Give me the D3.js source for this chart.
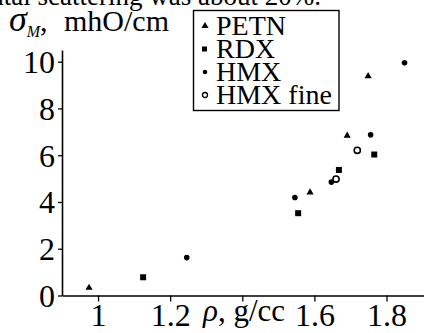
<!DOCTYPE html>
<html><head><meta charset="utf-8">
<script src="https://cdn.jsdelivr.net/npm/d3@7"></script>
<style>
html,body{margin:0;padding:0;background:#fff;}
svg{display:block;font-family:"Liberation Serif","Times New Roman",serif;}
</style></head>
<body>
<svg id="c" width="424" height="333"></svg>
<script>
// Data
const petnRho = [0.975, 1.588, 1.691, 1.749];
const petnSigma = [0.33, 4.41, 6.84, 9.38];
const rdxRho = [1.125, 1.555, 1.668, 1.766];
const rdxSigma = [0.78, 3.52, 5.37, 6.03];
const hmxRho = [1.246, 1.546, 1.647, 1.756, 1.850];
const hmxSigma = [1.62, 4.19, 4.85, 6.87, 9.95];
const hmxFineRho = [1.660, 1.719];
const hmxFineSigma = [4.98, 6.21];
const xTicks = [1.0, 1.2, 1.4, 1.6, 1.8];
const xTickLabels = ["1", "1.2", "", "1.6", "1.8"];
const yTicks = [0, 2, 4, 6, 8, 10];
const legendNames = ["PETN", "RDX", "HMX", "HMX fine"];

const FONT = "Liberation Serif";
const svg = d3.select("#c");
const x = d3.scaleLinear().domain([0.9, 1.904]).range([62, 424]);
const y = d3.scaleLinear().domain([0, 10.5]).range([295.5, 50]);

// clipped caption line at top
svg.append("text").attr("x", 321).attr("y", 5).attr("text-anchor", "end")
  .attr("font-size", 27).text("ontal scattering was about 20%.");

// axes
const xAxis = d3.axisBottom(x).tickValues(xTicks)
  .tickFormat((d, i) => xTickLabels[i]).tickSizeInner(6).tickSizeOuter(0).tickPadding(2);
const gx = svg.append("g").attr("transform", `translate(0,${y(0)})`).call(xAxis);
gx.attr("font-family", FONT);
gx.select(".domain").attr("stroke-width", 1.6);
gx.selectAll(".tick line").attr("stroke-width", 1.3);
gx.selectAll(".tick text").attr("font-size", 32).attr("fill", "#000");

const yAxis = d3.axisLeft(y).tickValues(yTicks).tickSizeInner(4).tickSizeOuter(0).tickPadding(3);
const gy = svg.append("g").attr("transform", `translate(${x(0.9)},0)`).call(yAxis);
gy.attr("font-family", FONT);
gy.select(".domain").attr("stroke-width", 1.6);
gy.selectAll(".tick line").attr("stroke-width", 1.3);
gy.selectAll(".tick text").attr("font-size", 32).attr("fill", "#000").attr("dy", "0.34em");

// axis titles
const yt = svg.append("text").attr("x", 9).attr("y", 31).attr("font-size", 30);
yt.append("tspan").attr("font-style", "italic").attr("font-size", 36).text("σ");
yt.append("tspan").attr("font-style", "italic").attr("font-size", 16).attr("dy", 6).text("M");
yt.append("tspan").attr("dy", -6).text(",");
yt.append("tspan").attr("x", 64).text("mhO/cm");

const xt = svg.append("text").attr("x", 203).attr("y", 321).attr("font-size", 31);
xt.append("tspan").attr("font-style", "italic").text("ρ");
xt.append("tspan").text(", g/cc");

// markers
const tri = d3.symbol().type(d3.symbolTriangle).size(22);
const pts = (rx, sy) => rx.map((r, i) => [r, sy[i]]);

svg.append("g").selectAll("path").data(pts(petnRho, petnSigma)).join("path")
  .attr("d", tri).attr("transform", d => `translate(${x(d[0])},${y(d[1])})`).attr("fill", "#000");
svg.append("g").selectAll("rect").data(pts(rdxRho, rdxSigma)).join("rect")
  .attr("x", d => x(d[0]) - 3).attr("y", d => y(d[1]) - 3).attr("width", 6).attr("height", 6).attr("fill", "#000");
svg.append("g").selectAll("circle").data(pts(hmxRho, hmxSigma)).join("circle")
  .attr("cx", d => x(d[0])).attr("cy", d => y(d[1])).attr("r", 2.8).attr("fill", "#000");
svg.append("g").selectAll("circle").data(pts(hmxFineRho, hmxFineSigma)).join("circle")
  .attr("cx", d => x(d[0])).attr("cy", d => y(d[1])).attr("r", 3.1).attr("fill", "#fff")
  .attr("stroke", "#000").attr("stroke-width", 1.6);

// legend
const lg = svg.append("g");
lg.append("rect").attr("x", 193.5).attr("y", 10.5).attr("width", 145.5).attr("height", 100)
  .attr("fill", "#fff").attr("stroke", "#000").attr("stroke-width", 1.4);
legendNames.forEach((name, i) => {
  const cy = 26 + i * 23;
  const g = lg.append("g");
  if (i === 0) g.append("path").attr("d", tri).attr("transform", `translate(205,${cy})`).attr("fill", "#000");
  if (i === 1) g.append("rect").attr("x", 202).attr("y", cy - 2.5).attr("width", 5).attr("height", 5).attr("fill", "#000");
  if (i === 2) g.append("circle").attr("cx", 205).attr("cy", cy).attr("r", 2.3).attr("fill", "#000");
  if (i === 3) g.append("circle").attr("cx", 205).attr("cy", cy).attr("r", 2.5).attr("fill", "#fff").attr("stroke", "#000").attr("stroke-width", 1.3);
  g.append("text").attr("x", 216).attr("y", cy + 9).attr("font-size", 28).text(name);
});
</script>
</body></html>
